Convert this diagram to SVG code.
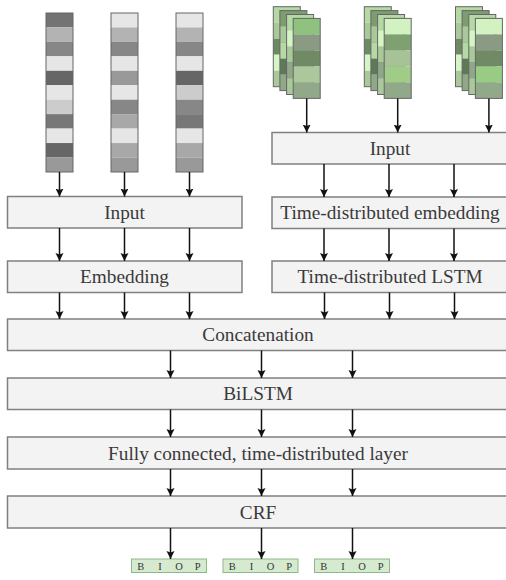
<svg xmlns="http://www.w3.org/2000/svg" width="506" height="580" viewBox="0 0 506 580">
<style>
.box{fill:#f3f3f3;stroke:#808080;stroke-width:1.5}
.lbl{font-family:"Liberation Serif","Times New Roman",serif;font-size:19.3px;fill:#3a3a3a;text-anchor:middle}
.cell{stroke:none}
.frame{fill:none;stroke:#666;stroke-width:1}
.arr{stroke:#111;stroke-width:1.5;fill:none;marker-end:url(#ah)}
.tag{fill:#d6ead0;stroke:#8fb88a;stroke-width:1}
.tt{font-family:"Liberation Serif","Times New Roman",serif;font-size:10.5px;fill:#333;text-anchor:middle}
</style>
<defs>
<marker id="ah" markerUnits="userSpaceOnUse" markerWidth="9" markerHeight="9" refX="8" refY="4" orient="auto">
<path d="M0,0 L8,4 L0,8 L1.5,4 Z" fill="#111"/>
</marker>
</defs>

<g id="word-stack-1">
<rect class="cell" x="46" y="13" width="27" height="14.45" fill="#737373"/>
<rect class="cell" x="46" y="27.45" width="27" height="14.45" fill="#b3b3b3"/>
<rect class="cell" x="46" y="41.9" width="27" height="14.45" fill="#878787"/>
<rect class="cell" x="46" y="56.35" width="27" height="14.45" fill="#e6e6e6"/>
<rect class="cell" x="46" y="70.8" width="27" height="14.45" fill="#666666"/>
<rect class="cell" x="46" y="85.25" width="27" height="14.45" fill="#e6e6e6"/>
<rect class="cell" x="46" y="99.7" width="27" height="14.45" fill="#cccccc"/>
<rect class="cell" x="46" y="114.15" width="27" height="14.45" fill="#777777"/>
<rect class="cell" x="46" y="128.6" width="27" height="14.45" fill="#e6e6e6"/>
<rect class="cell" x="46" y="143.05" width="27" height="14.45" fill="#666666"/>
<rect class="cell" x="46" y="157.5" width="27" height="14.5" fill="#999999"/>
<rect class="frame" x="46" y="13" width="27" height="159"/>
</g>
<g id="word-stack-2">
<rect class="cell" x="111" y="13" width="27" height="14.45" fill="#e6e6e6"/>
<rect class="cell" x="111" y="27.45" width="27" height="14.45" fill="#b3b3b3"/>
<rect class="cell" x="111" y="41.9" width="27" height="14.45" fill="#878787"/>
<rect class="cell" x="111" y="56.35" width="27" height="14.45" fill="#e6e6e6"/>
<rect class="cell" x="111" y="70.8" width="27" height="14.45" fill="#999999"/>
<rect class="cell" x="111" y="85.25" width="27" height="14.45" fill="#e6e6e6"/>
<rect class="cell" x="111" y="99.7" width="27" height="14.45" fill="#878787"/>
<rect class="cell" x="111" y="114.15" width="27" height="14.45" fill="#a8a8a8"/>
<rect class="cell" x="111" y="128.6" width="27" height="14.45" fill="#e6e6e6"/>
<rect class="cell" x="111" y="143.05" width="27" height="14.45" fill="#a8a8a8"/>
<rect class="cell" x="111" y="157.5" width="27" height="14.5" fill="#999999"/>
<rect class="frame" x="111" y="13" width="27" height="159"/>
</g>
<g id="word-stack-3">
<rect class="cell" x="176" y="13" width="27" height="14.45" fill="#e6e6e6"/>
<rect class="cell" x="176" y="27.45" width="27" height="14.45" fill="#b3b3b3"/>
<rect class="cell" x="176" y="41.9" width="27" height="14.45" fill="#878787"/>
<rect class="cell" x="176" y="56.35" width="27" height="14.45" fill="#e6e6e6"/>
<rect class="cell" x="176" y="70.8" width="27" height="14.45" fill="#666666"/>
<rect class="cell" x="176" y="85.25" width="27" height="14.45" fill="#cccccc"/>
<rect class="cell" x="176" y="99.7" width="27" height="14.45" fill="#878787"/>
<rect class="cell" x="176" y="114.15" width="27" height="14.45" fill="#777777"/>
<rect class="cell" x="176" y="128.6" width="27" height="14.45" fill="#e6e6e6"/>
<rect class="cell" x="176" y="143.05" width="27" height="14.45" fill="#a8a8a8"/>
<rect class="cell" x="176" y="157.5" width="27" height="14.5" fill="#999999"/>
<rect class="frame" x="176" y="13" width="27" height="159"/>
</g>

<defs>
<g id="layerA">
<rect class="cell" x="0" y="0" width="27" height="16" fill="#b5d9a5"/>
<rect class="cell" x="0" y="16" width="27" height="16" fill="#a9c99a"/>
<rect class="cell" x="0" y="32" width="27" height="16" fill="#6e8a64"/>
<rect class="cell" x="0" y="48" width="27" height="16" fill="#d5f5c5"/>
<rect class="cell" x="0" y="64" width="27" height="16" fill="#a9c99a"/>
<rect class="frame" x="0" y="0" width="27" height="80"/>
</g>
<g id="layerB">
<rect class="cell" x="0" y="0" width="27" height="16" fill="#7e9c70"/>
<rect class="cell" x="0" y="16" width="27" height="16" fill="#a9c99a"/>
<rect class="cell" x="0" y="32" width="27" height="16" fill="#b5d9a5"/>
<rect class="cell" x="0" y="48" width="27" height="16" fill="#60785a"/>
<rect class="cell" x="0" y="64" width="27" height="16" fill="#90a888"/>
<rect class="frame" x="0" y="0" width="27" height="80"/>
</g>
<g id="layerC">
<rect class="cell" x="0" y="0" width="27" height="16" fill="#b5d9a5"/>
<rect class="cell" x="0" y="16" width="27" height="16" fill="#d5f5c5"/>
<rect class="cell" x="0" y="32" width="27" height="16" fill="#a9c99a"/>
<rect class="cell" x="0" y="48" width="27" height="16" fill="#90a888"/>
<rect class="cell" x="0" y="64" width="27" height="16" fill="#a9c99a"/>
<rect class="frame" x="0" y="0" width="27" height="80"/>
</g>
<g id="front1">
<rect class="cell" x="0" y="0" width="27" height="16" fill="#8fc27f"/>
<rect class="cell" x="0" y="16" width="27" height="16" fill="#8b9b83"/>
<rect class="cell" x="0" y="32" width="27" height="16" fill="#6f8a65"/>
<rect class="cell" x="0" y="48" width="27" height="16" fill="#adc79d"/>
<rect class="cell" x="0" y="64" width="27" height="16" fill="#91a889"/>
<rect class="frame" x="0" y="0" width="27" height="80"/>
</g>
<g id="front2">
<rect class="cell" x="0" y="0" width="27" height="16" fill="#d2f2c2"/>
<rect class="cell" x="0" y="16" width="27" height="16" fill="#7fa070"/>
<rect class="cell" x="0" y="32" width="27" height="16" fill="#a8c298"/>
<rect class="cell" x="0" y="48" width="27" height="16" fill="#a0cc88"/>
<rect class="cell" x="0" y="64" width="27" height="16" fill="#91a889"/>
<rect class="frame" x="0" y="0" width="27" height="80"/>
</g>
<g id="front3">
<rect class="cell" x="0" y="0" width="27" height="16" fill="#d2f2c2"/>
<rect class="cell" x="0" y="16" width="27" height="16" fill="#8b9b83"/>
<rect class="cell" x="0" y="32" width="27" height="16" fill="#6f8a65"/>
<rect class="cell" x="0" y="48" width="27" height="16" fill="#98cc85"/>
<rect class="cell" x="0" y="64" width="27" height="16" fill="#91a889"/>
<rect class="frame" x="0" y="0" width="27" height="80"/>
</g>
</defs>

<g id="char-stack-1">
<use href="#layerA" x="273.3" y="6.7"/>
<use href="#layerB" x="279.9" y="10.6"/>
<use href="#layerC" x="286.6" y="14.5"/>
<use href="#front1" x="293.2" y="18.4"/>
</g>
<g id="char-stack-2">
<use href="#layerA" x="364.3" y="6.7"/>
<use href="#layerB" x="370.9" y="10.6"/>
<use href="#layerC" x="377.6" y="14.5"/>
<use href="#front2" x="384.2" y="18.4"/>
</g>
<g id="char-stack-3">
<use href="#layerA" x="455.5" y="6.7"/>
<use href="#layerB" x="462.1" y="10.6"/>
<use href="#layerC" x="468.8" y="14.5"/>
<use href="#front3" x="475.4" y="18.4"/>
</g>

<g id="input-left"><rect class="box" x="7.5" y="196.5" width="234.5" height="31.5"/><text class="lbl" x="124.5" y="218.8">Input</text></g>
<g id="embedding"><rect class="box" x="7.5" y="261" width="234.5" height="31.5"/><text class="lbl" x="124.5" y="283.3">Embedding</text></g>
<g id="input-right"><rect class="box" x="272" y="132.5" width="238" height="31.5"/><text class="lbl" x="390" y="154.8">Input</text></g>
<g id="td-embedding"><rect class="box" x="272" y="197" width="238" height="31.5"/><text class="lbl" x="390" y="219.3">Time-distributed embedding</text></g>
<g id="td-lstm"><rect class="box" x="272" y="261" width="238" height="31.5"/><text class="lbl" x="390" y="283.3">Time-distributed LSTM</text></g>
<g id="concatenation"><rect class="box" x="7.5" y="319" width="502" height="31.5"/><text class="lbl" x="258" y="341.3">Concatenation</text></g>
<g id="bilstm"><rect class="box" x="7.5" y="378" width="502" height="31.5"/><text class="lbl" x="258" y="400.3">BiLSTM</text></g>
<g id="fully-connected"><rect class="box" x="7.5" y="437" width="502" height="32"/><text class="lbl" x="258" y="459.5">Fully connected, time-distributed layer</text></g>
<g id="crf"><rect class="box" x="7.5" y="496" width="502" height="32"/><text class="lbl" x="258" y="518.5">CRF</text></g>

<g id="tag-1"><rect class="tag" x="131.5" y="559" width="75" height="13.5"/><text class="tt" x="140.7" y="569.5">B</text><text class="tt" x="160" y="569.5">I</text><text class="tt" x="179" y="569.5">O</text><text class="tt" x="197.7" y="569.5">P</text></g>
<g id="tag-2"><rect class="tag" x="223" y="559" width="75" height="13.5"/><text class="tt" x="232.2" y="569.5">B</text><text class="tt" x="251.5" y="569.5">I</text><text class="tt" x="270.5" y="569.5">O</text><text class="tt" x="289.2" y="569.5">P</text></g>
<g id="tag-3"><rect class="tag" x="314.5" y="559" width="75" height="13.5"/><text class="tt" x="323.7" y="569.5">B</text><text class="tt" x="343" y="569.5">I</text><text class="tt" x="362" y="569.5">O</text><text class="tt" x="380.7" y="569.5">P</text></g>

<g id="connectors">
<line class="arr" x1="59.5" y1="172" x2="59.5" y2="196.5"/>
<line class="arr" x1="124.5" y1="172" x2="124.5" y2="196.5"/>
<line class="arr" x1="189.5" y1="172" x2="189.5" y2="196.5"/>
<line class="arr" x1="59.5" y1="228" x2="59.5" y2="261"/>
<line class="arr" x1="124.5" y1="228" x2="124.5" y2="261"/>
<line class="arr" x1="189.5" y1="228" x2="189.5" y2="261"/>
<line class="arr" x1="59.5" y1="292.5" x2="59.5" y2="319"/>
<line class="arr" x1="124.5" y1="292.5" x2="124.5" y2="319"/>
<line class="arr" x1="189.5" y1="292.5" x2="189.5" y2="319"/>
<line class="arr" x1="306.7" y1="98.4" x2="306.7" y2="132.5"/>
<line class="arr" x1="397.7" y1="98.4" x2="397.7" y2="132.5"/>
<line class="arr" x1="488.9" y1="98.4" x2="488.9" y2="132.5"/>
<line class="arr" x1="324" y1="164" x2="324" y2="197"/>
<line class="arr" x1="389" y1="164" x2="389" y2="197"/>
<line class="arr" x1="454" y1="164" x2="454" y2="197"/>
<line class="arr" x1="324" y1="228.5" x2="324" y2="261"/>
<line class="arr" x1="389" y1="228.5" x2="389" y2="261"/>
<line class="arr" x1="454" y1="228.5" x2="454" y2="261"/>
<line class="arr" x1="324.5" y1="292.5" x2="324.5" y2="319"/>
<line class="arr" x1="389.5" y1="292.5" x2="389.5" y2="319"/>
<line class="arr" x1="454.5" y1="292.5" x2="454.5" y2="319"/>
<line class="arr" x1="170.5" y1="350.5" x2="170.5" y2="378"/>
<line class="arr" x1="261.5" y1="350.5" x2="261.5" y2="378"/>
<line class="arr" x1="352.5" y1="350.5" x2="352.5" y2="378"/>
<line class="arr" x1="170.5" y1="409.5" x2="170.5" y2="437"/>
<line class="arr" x1="261.5" y1="409.5" x2="261.5" y2="437"/>
<line class="arr" x1="352.5" y1="409.5" x2="352.5" y2="437"/>
<line class="arr" x1="170.5" y1="469" x2="170.5" y2="496"/>
<line class="arr" x1="261.5" y1="469" x2="261.5" y2="496"/>
<line class="arr" x1="352.5" y1="469" x2="352.5" y2="496"/>
<line class="arr" x1="170.5" y1="528" x2="170.5" y2="559"/>
<line class="arr" x1="261.5" y1="528" x2="261.5" y2="559"/>
<line class="arr" x1="352.5" y1="528" x2="352.5" y2="559"/>
</g>
</svg>
